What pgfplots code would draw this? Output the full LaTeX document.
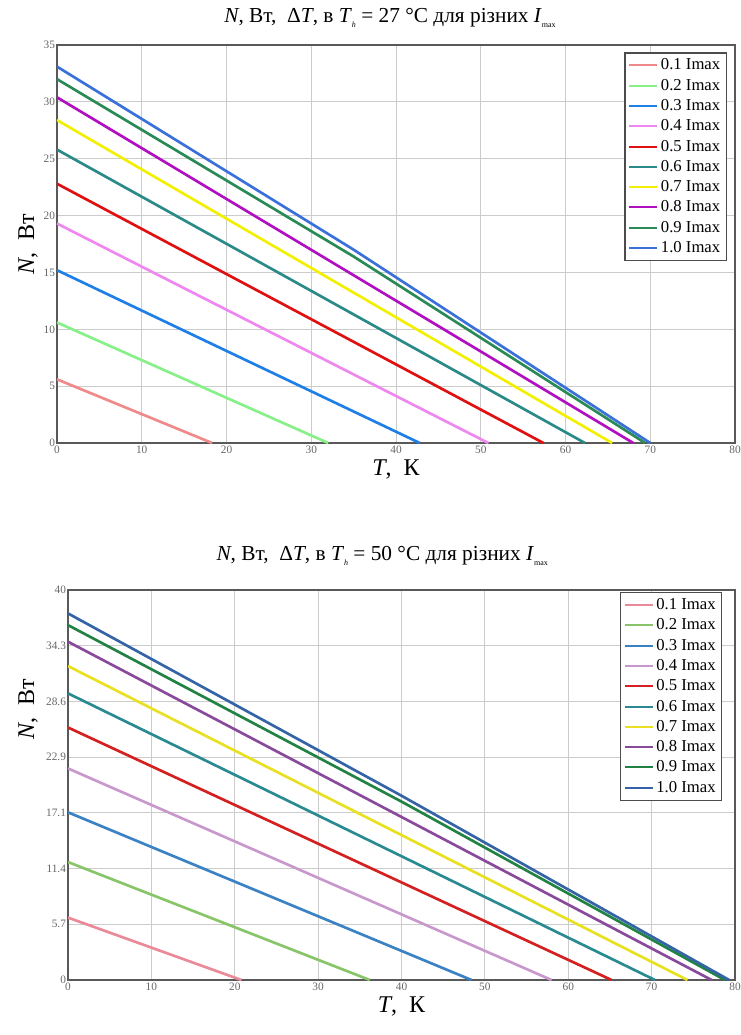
\documentclass[border=0pt]{standalone}
\usepackage{fontspec}
\setmainfont{Liberation Serif}
\usepackage{pgfplots}
\pgfplotsset{compat=1.18}

% top panel colours
\definecolor{a1}{HTML}{F08A8A}
\definecolor{a2}{HTML}{88F088}
\definecolor{a3}{HTML}{1E7FE6}
\definecolor{a4}{HTML}{EE88EE}
\definecolor{a5}{HTML}{E01010}
\definecolor{a6}{HTML}{2A8A88}
\definecolor{a7}{HTML}{F2F000}
\definecolor{a8}{HTML}{B010C0}
\definecolor{a9}{HTML}{2A8A55}
\definecolor{a10}{HTML}{3A70DA}
% bottom panel colours
\definecolor{b1}{HTML}{EA8A98}
\definecolor{b2}{HTML}{88C468}
\definecolor{b3}{HTML}{3A82C4}
\definecolor{b4}{HTML}{C898CC}
\definecolor{b5}{HTML}{D42020}
\definecolor{b6}{HTML}{2A8A92}
\definecolor{b7}{HTML}{E8E020}
\definecolor{b8}{HTML}{8A4A9C}
\definecolor{b9}{HTML}{228244}
\definecolor{b10}{HTML}{3464A6}

\newcommand{\sub}[1]{\raisebox{-0.5ex}{\fontsize{6}{6}\selectfont #1}}

\pgfplotsset{
  panel/.style={
    scale only axis,
    xmin=0, xmax=80, ymin=0,
    xtick={0,10,...,80},
    grid=major,
    major grid style={draw=black!20, line width=0.6pt},
    axis line style={draw=black!65, line width=1.4pt},
    tick style={draw=none},
    ticklabel style={font=\fontsize{8.5}{9}\selectfont, text=black!60},
    /pgf/number format/assume math mode=true,
    xticklabel style={yshift=1pt},
    yticklabel style={xshift=2pt},
    xlabel={\textit{T},\ \ К},
    ylabel={\textit{N},\ \ Вт},
    label style={font=\fontsize{18}{20}\selectfont},
    xlabel style={at={(axis description cs:0.5,0)}, anchor=center, yshift=-20pt},
    title style={font=\fontsize{16}{18}\selectfont, anchor=center},
    legend cell align=left,
    legend style={draw=black!70, line width=1pt, font=\fontsize{12.5}{13}\selectfont,
      row sep=1.4pt, inner sep=2.5pt},
    legend image code/.code={\draw[#1, line width=1.5pt] (0pt,0pt) -- (21pt,0pt);},
    every axis plot/.append style={line width=2pt},
  }
}

\begin{document}
\begin{tikzpicture}
\useasboundingbox (0pt,0pt) rectangle (555.75pt,-776.25pt);

% Th = 27 C
\begin{axis}[panel,
  at={(42.75pt,-33.75pt)}, anchor=north west,
  width=508.5pt, height=298.5pt,
  ymax=35, ytick={0,5,...,35},
  ylabel style={at={(axis description cs:0,0.5)}, anchor=center, yshift=21.75pt},
  title={\textit{N}, Вт,\ \ Δ\textit{T}, в \textit{T}\sub{\textit{h}} = 27 °C для різних \textit{I}\sub{max}},
  title style={at={(axis description cs:0.5,1)}, yshift=14.25pt, xshift=-4.5pt},
  legend style={at={(axis description cs:0.988,0.982)}, anchor=north east},
]
\addplot[a1] coordinates {(0,5.6) (18.3,0)};
\addplot[a2] coordinates {(0,10.6) (32.0,0)};
\addplot[a3] coordinates {(0,15.2) (42.8,0)};
\addplot[a4] coordinates {(0,19.3) (50.9,0)};
\addplot[a5] coordinates {(0,22.8) (57.4,0)};
\addplot[a6] coordinates {(0,25.8) (62.3,0)};
\addplot[a7] coordinates {(0,28.4) (65.5,0)};
\addplot[a8] coordinates {(0,30.4) (68.0,0)};
\addplot[a9] coordinates {(0,32.0) (35,16.4) (69.4,0)};
\addplot[a10] coordinates {(0,33.1) (35,17.0) (70.0,0)};
\legend{0.1 Imax,0.2 Imax,0.3 Imax,0.4 Imax,0.5 Imax,0.6 Imax,0.7 Imax,0.8 Imax,0.9 Imax,1.0 Imax}
\end{axis}

% Th = 50 C
\begin{axis}[panel,
  at={(51pt,-442.5pt)}, anchor=north west,
  width=500.25pt, height=292.5pt,
  ymax=40,
  ytick={0,5.714,11.429,17.143,22.857,28.571,34.286,40},
  yticklabels={0,5.7,11.4,17.1,22.9,28.6,34.3,40},
  ylabel style={at={(axis description cs:0,0.695)}, anchor=center, yshift=30pt},
  title={\textit{N}, Вт,\ \ Δ\textit{T}, в \textit{T}\sub{\textit{h}} = 50 °C для різних \textit{I}\sub{max}},
  title style={at={(axis description cs:0.5,1)}, yshift=19.5pt, xshift=-14.5pt},
  legend style={at={(axis description cs:0.981,0.995)}, anchor=north east},
]
\addplot[b1] coordinates {(0,6.4) (20.8,0)};
\addplot[b2] coordinates {(0,12.1) (36.2,0)};
\addplot[b3] coordinates {(0,17.2) (48.4,0)};
\addplot[b4] coordinates {(0,21.7) (58.0,0)};
\addplot[b5] coordinates {(0,25.9) (65.2,0)};
\addplot[b6] coordinates {(0,29.4) (70.4,0)};
\addplot[b7] coordinates {(0,32.2) (74.3,0)};
\addplot[b8] coordinates {(0,34.7) (77.2,0)};
\addplot[b9] coordinates {(0,36.4) (40,18.3) (78.8,0)};
\addplot[b10] coordinates {(0,37.6) (40,18.9) (79.3,0)};
\legend{0.1 Imax,0.2 Imax,0.3 Imax,0.4 Imax,0.5 Imax,0.6 Imax,0.7 Imax,0.8 Imax,0.9 Imax,1.0 Imax}
\end{axis}
\end{tikzpicture}
\end{document}
